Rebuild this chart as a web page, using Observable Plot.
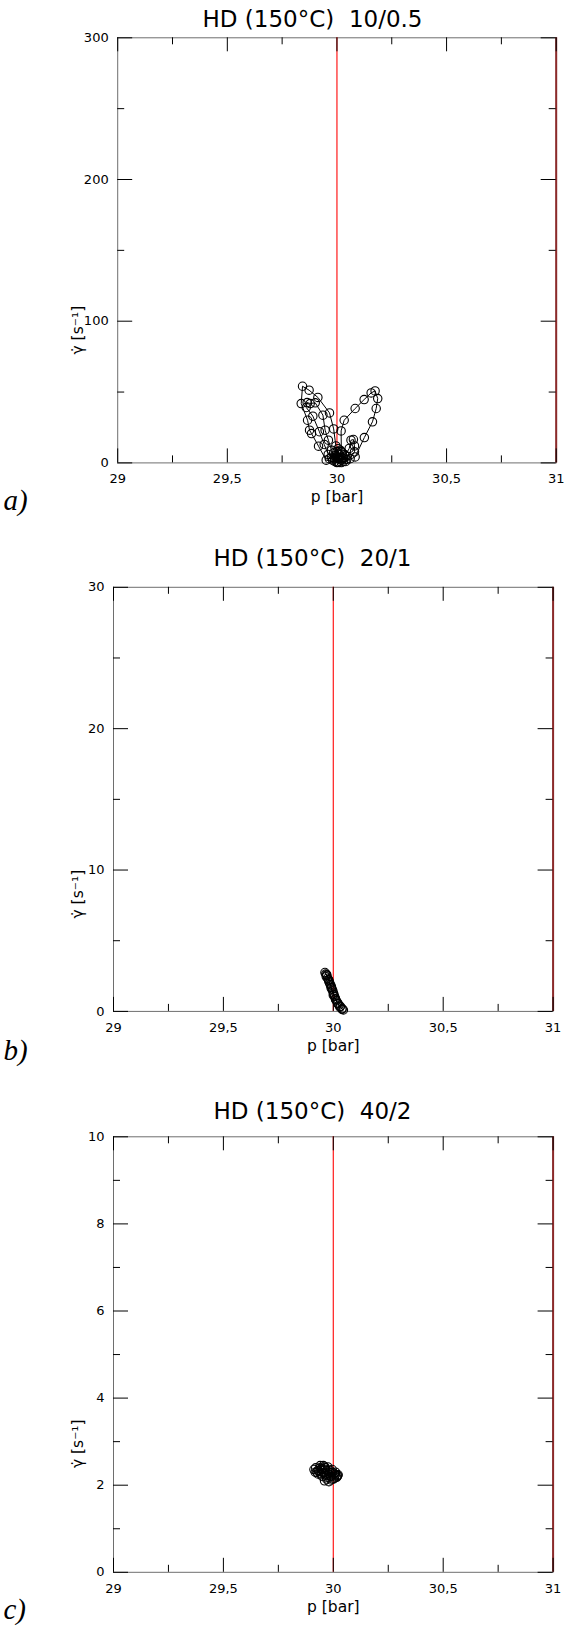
<!DOCTYPE html>
<html>
<head>
<meta charset="utf-8">
<script src="https://cdn.jsdelivr.net/npm/d3@7"></script>
<script src="https://cdn.jsdelivr.net/npm/@observablehq/plot@0.6"></script>
<style>
  html, body { margin: 0; padding: 0; background: white; }
  #wrap { position: relative; width: 564px; height: 1627px; overflow: hidden; }
  #wrap > div, #wrap > svg { position: absolute; left: 0; }
</style>
</head>
<body>
<div id="wrap"></div>
<script>
// ---------- data ----------
const titles = ["HD (150°C)\u00a0\u00a010/0.5", "HD (150°C)\u00a0\u00a020/1", "HD (150°C)\u00a0\u00a040/2"];
const panelLabels = ["a)", "b)", "c)"];
const xLabel = "p [bar]";
const yLabel = "γ̇ [s⁻¹]";
const xMajor = [29, 29.5, 30, 30.5, 31];
const xMinor = [29.25, 29.75, 30.25, 30.75];
const refLine = [30];
const edgeLine = [31];

const yMajorA = [0, 100, 200, 300];
const yMinorA = [50, 150, 250];
const yMajorB = [0, 10, 20, 30];
const yMinorB = [5, 15, 25];
const yMajorC = [0, 2, 4, 6, 8, 10];
const yMinorC = [1, 3, 5, 7, 9];

// panel a) 10/0.5
const pA = [30.005, 29.951, 29.916, 29.884, 29.875, 29.866, 29.837, 29.843, 29.873, 29.913, 29.966, 29.985, 29.995, 30.0,
  30.02, 30.019, 30.033, 30.083, 30.124, 30.156, 30.174, 30.186, 30.179, 30.162, 30.125, 30.083, 30.04, 30.01,
  29.96, 29.942, 29.92, 29.89, 29.86, 29.864, 29.878, 29.901, 29.936, 29.946, 29.961, 29.975, 29.99,
  30.03, 30.056, 30.064, 30.075, 30.08, 30.08, 30.06, 30.03,
  30.0, 30.02, 29.99, 30.01, 30.03, 30.0, 29.98, 30.02, 30.04, 29.99, 30.01, 30.0, 30.025, 29.975, 30.015, 30.045, 29.965, 30.035, 30.005, 29.985];
const gA = [0.5, 1.9, 11.8, 20.7, 23.1, 30.1, 41.9, 54.1, 51.3, 46.2, 35.3, 24, 12, 4,
  8, 22.6, 30.1, 38.4, 44.7, 49.4, 50.8, 45.4, 38.4, 29.0, 17.9, 4.2, 1, 0.3,
  6, 13, 22, 33, 39.1, 42.6, 41.9, 42.4, 33.7, 23.1, 16, 9, 3,
  3, 10.2, 16, 16.5, 12, 7.8, 3, 1,
  0.5, 2, 5, 6, 4, 8, 2, 0.2, 5, 1, 3, 0.2, 7, 4, 9, 2.5, 3, 6, 10, 7];

// panel b) 20/1
const pB = [29.962, 29.966, 29.97, 29.968, 29.974, 29.978, 29.98, 29.984, 29.986, 29.99, 29.992, 29.995, 29.998, 30.0, 30.003,
  30.006, 30.01, 30.014, 30.02, 30.026, 30.032, 30.04, 30.046, 30.04, 30.03, 30.02, 30.01, 30.0, 29.99, 29.98, 29.97];
const gB = [2.75, 2.65, 2.55, 2.45, 2.35, 2.25, 2.1, 2.0, 1.9, 1.8, 1.7, 1.55, 1.45, 1.3, 1.2,
  1.05, 0.9, 0.75, 0.6, 0.45, 0.35, 0.2, 0.1, 0.15, 0.3, 0.55, 0.85, 1.15, 1.65, 2.2, 2.6];

// panel c) 40/2
const pC = [29.96, 29.94, 29.92, 29.912, 29.918, 29.93, 29.95, 29.97, 29.99, 30.005, 30.018, 30.022, 30.01, 29.995, 29.975, 29.955,
  29.94, 29.935, 29.945, 29.96, 29.98, 30.0, 30.015, 30.02, 30.005, 29.985, 29.965, 29.95, 29.955, 29.97, 29.99, 30.01,
  29.985, 29.965, 29.945, 29.93, 29.925, 29.94, 29.96, 29.98, 29.995];
const gC = [2.42, 2.45, 2.4, 2.36, 2.3, 2.26, 2.2, 2.14, 2.12, 2.16, 2.2, 2.24, 2.3, 2.36, 2.42, 2.45,
  2.4, 2.32, 2.24, 2.1, 2.08, 2.14, 2.18, 2.22, 2.26, 2.34, 2.4, 2.36, 2.28, 2.22, 2.2, 2.24,
  2.3, 2.36, 2.38, 2.34, 2.3, 2.28, 2.26, 2.26, 2.3];

// ---------- drawing ----------
const FONT = "DejaVu Sans";
const fmtX = d => String(d).replace(".", ",");

function panel(cfg) {
  const {top, height, mt, mb, ml, mr, yDomain, yMajor, yMinor, xs, ys, title, titleDx, titleDy, lab, labDy, yLabDy, yLabDx} = cfg;
  const fw = 564 - ml - mr;
  const fh = height - mt - mb;
  const data = xs.map((x, i) => ({x, y: ys[i]}));
  const chart = Plot.plot({
    width: 564,
    height,
    marginTop: mt, marginBottom: mb, marginLeft: ml, marginRight: mr,
    style: {fontFamily: FONT, fontSize: "13px", background: "white", color: "black", overflow: "visible"},
    x: {domain: [29, 31]},
    y: {domain: yDomain},
    marks: [
      Plot.frame({stroke: "#6e6e6e"}),
      Plot.ruleX(refLine, {x: d => d, stroke: "#ff1a1a", strokeWidth: 1.2}),
      Plot.ruleX(edgeLine, {x: d => d, stroke: "#8c2a2a", strokeWidth: 2}),
      // inward ticks, bottom & top
      Plot.tickX(xMajor, {x: d => d, insetTop: fh - 14, stroke: "black"}),
      Plot.tickX(xMinor, {x: d => d, insetTop: fh - 7, stroke: "black"}),
      Plot.tickX(xMajor, {x: d => d, insetBottom: fh - 14, stroke: "black"}),
      Plot.tickX(xMinor, {x: d => d, insetBottom: fh - 7, stroke: "black"}),
      // inward ticks, left & right
      Plot.tickY(yMajor, {y: d => d, insetRight: fw - 15, stroke: "black"}),
      Plot.tickY(yMinor, {y: d => d, insetRight: fw - 7, stroke: "black"}),
      Plot.tickY(yMajor, {y: d => d, insetLeft: fw - 15, stroke: "black"}),
      Plot.tickY(yMinor, {y: d => d, insetLeft: fw - 7, stroke: "black"}),
      Plot.axisX({ticks: xMajor, tickSize: 0, tickPadding: 11, tickFormat: fmtX, label: null, fontSize: 13}),
      Plot.axisY({ticks: yMajor, tickSize: 0, tickPadding: 9, label: null, fontSize: 13}),
      // data
      Plot.line(data, {x: "x", y: "y", stroke: "black", strokeWidth: 1}),
      Plot.dot(data, {x: "x", y: "y", r: 4.2, stroke: "black", strokeWidth: 1.1, fill: "none"}),
      // texts
      Plot.text([title], {frameAnchor: "top", text: d => d, dx: titleDx, dy: titleDy, lineAnchor: "middle", fontSize: 23, fontFamily: FONT}),
      Plot.text([xLabel], {frameAnchor: "bottom", text: d => d, dy: 34.5, lineAnchor: "middle", fontSize: 15.5, fontFamily: FONT}),
      Plot.text([yLabel], {frameAnchor: "left", text: d => d, dx: yLabDx, dy: yLabDy, rotate: -90, lineAnchor: "middle", textAnchor: "middle", fontSize: 15.5, fontFamily: FONT}),
      Plot.text([lab], {frameAnchor: "bottom-left", text: d => d, dx: 3 - ml, dy: labDy, textAnchor: "start", lineAnchor: "middle", fontSize: 29, fontStyle: "italic", fontFamily: "Liberation Serif"})
    ]
  });
  chart.style.top = top + "px";
  return chart;
}

const wrap = document.getElementById("wrap");
wrap.appendChild(panel({top: 0, height: 520, mt: 37.3, mb: 520 - 462.4, ml: 117.2, mr: 564 - 555.7,
  yDomain: [0, 300], yMajor: yMajorA, yMinor: yMinorA, xs: pA, ys: gA,
  title: titles[0], titleDx: 312 - (117.2 + 555.7) / 2, titleDy: -18.6, lab: panelLabels[0], labDy: 37.6, yLabDy: 79.8, yLabDx: -39.5}));
wrap.appendChild(panel({top: 520, height: 550, mt: 66.8, mb: 550 - 490.9, ml: 113, mr: 564 - 552.6,
  yDomain: [0, 30], yMajor: yMajorB, yMinor: yMinorB, xs: pB, ys: gB,
  title: titles[1], titleDx: 312 - (113 + 552.6) / 2, titleDy: -29, lab: panelLabels[1], labDy: 39, yLabDy: 94.8, yLabDx: -35.5}));
wrap.appendChild(panel({top: 1070, height: 557, mt: 66.3, mb: 557 - 501.8, ml: 113, mr: 564 - 552.6,
  yDomain: [0, 10], yMajor: yMajorC, yMinor: yMinorC, xs: pC, ys: gC,
  title: titles[2], titleDx: 312 - (113 + 552.6) / 2, titleDy: -25, lab: panelLabels[2], labDy: 37.5, yLabDy: 89.2, yLabDx: -35.5}));
</script>
</body>
</html>
